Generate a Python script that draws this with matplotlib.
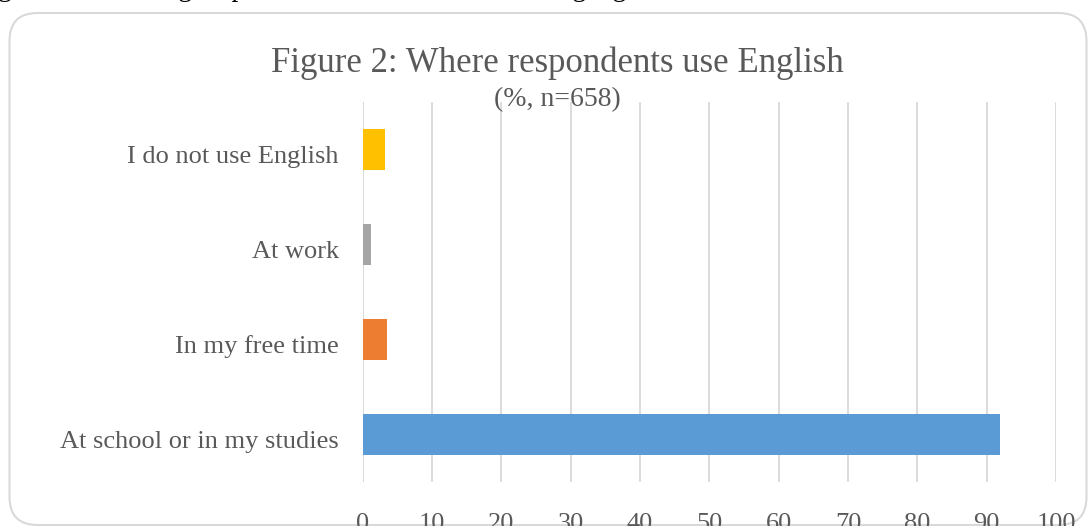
import matplotlib
matplotlib.use("Agg")
import matplotlib.pyplot as plt
from matplotlib.patches import FancyBboxPatch
from matplotlib.transforms import IdentityTransform, ScaledTranslation

# 数据（从下到上）
categories = ["At school or in my studies", "In my free time", "At work", "I do not use English"]
values = [91.9, 3.5, 1.2, 3.2]
colors = ["#5B9BD5", "#ED7D31", "#A5A5A5", "#FFC000"]
xticks = list(range(0, 101, 10))

plt.rcParams['font.family'] = ['Liberation Serif', 'DejaVu Serif']
text_color = "#595959"
grid_color = "#D9D9D9"

fig = plt.figure(figsize=(10.91, 5.26), dpi=100)

# 正文残留的一行
fig.text(-0.002, 1.0 + 4 / 526, "ge, the remaining respondents have various first languages.",
         fontsize=20, color="black", ha="left", va="baseline")

# 图表外框（圆角）
frame = FancyBboxPatch((9.5, 1.0), 1077, 512,
                       boxstyle="round,pad=0,rounding_size=28",
                       transform=IdentityTransform(),
                       facecolor="white", edgecolor=grid_color, linewidth=1.5,
                       zorder=-1)
fig.add_artist(frame)

ax = fig.add_axes([0.3323, 0.0837, 0.6356, 0.7223])
ax.set_facecolor("none")
ax.barh(range(len(categories)), values, height=0.43, color=colors, zorder=3)

ax.set_xlim(0, 100)
ax.set_ylim(-0.5, len(categories) - 0.5)
ax.set_xticks(xticks)
ax.set_yticks(range(len(categories)))
ax.set_yticklabels(categories)
ax.grid(axis="x", color=grid_color, linewidth=1.3, zorder=0)
ax.axvline(0, color=grid_color, linewidth=1.3, zorder=1)
for s in ax.spines.values():
    s.set_visible(False)
ax.tick_params(axis="both", length=0, labelsize=19, colors=text_color)
ax.tick_params(axis="x", pad=22)
ax.tick_params(axis="y", pad=17)

# 分类标签略低于条形中心
shift = ScaledTranslation(0, -0.05, fig.dpi_scale_trans)
for lab in ax.get_yticklabels():
    lab.set_transform(lab.get_transform() + shift)

fig.text(0.5105, 0.879, "Figure 2: Where respondents use English",
         fontsize=25, color=text_color, ha="center", va="center")
fig.text(0.5105, 0.811, "(%, n=658)",
         fontsize=20, color=text_color, ha="center", va="center")

fig.savefig("out.png", dpi=100)
